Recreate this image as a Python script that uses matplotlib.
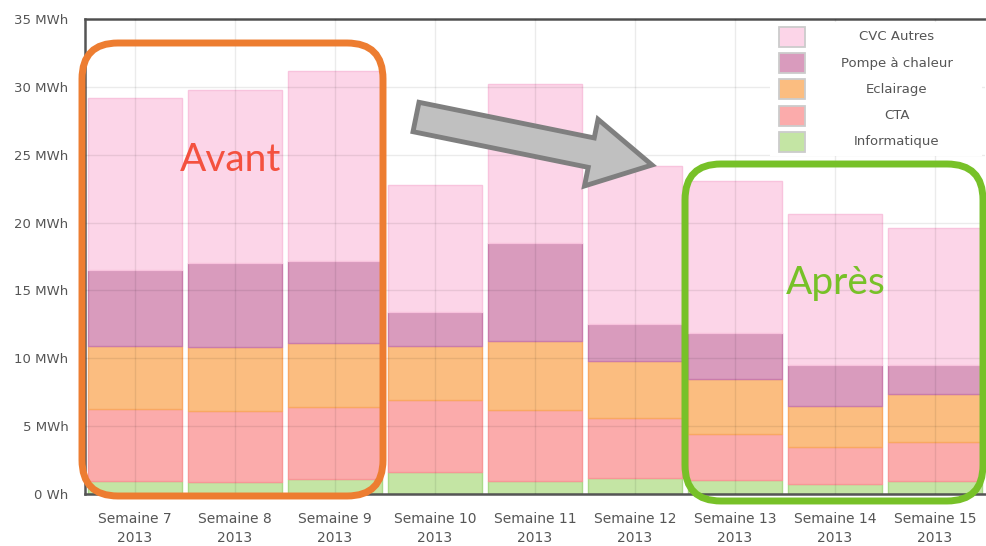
import numpy as np
import matplotlib.pyplot as plt
from matplotlib.patches import FancyBboxPatch, FancyArrow, Rectangle

# weekly consumption (MWh)
semaines = ['Semaine 7', 'Semaine 8', 'Semaine 9', 'Semaine 10', 'Semaine 11',
            'Semaine 12', 'Semaine 13', 'Semaine 14', 'Semaine 15']
annee = '2013'
informatique = [0.96, 0.91, 1.08, 1.62, 0.96, 1.18, 1.00, 0.76, 0.94]
cta = [5.28, 5.23, 5.31, 5.31, 5.24, 4.42, 3.40, 2.73, 2.89]
eclairage = [4.69, 4.66, 4.74, 3.97, 5.10, 4.20, 4.05, 2.99, 3.54]
pompe = [5.57, 6.20, 6.02, 2.50, 7.20, 2.70, 3.39, 3.00, 2.13]
cvc_autres = [12.70, 12.80, 14.05, 9.40, 11.70, 11.70, 11.26, 11.12, 10.10]

series = [('Informatique', informatique, '#c4e5a4', '#a9d987'),
          ('CTA', cta, '#fbabab', '#f79797'),
          ('Eclairage', eclairage, '#fbbd80', '#f9a862'),
          ('Pompe à chaleur', pompe, '#d99bbd', '#c97cab'),
          ('CVC Autres', cvc_autres, '#fcd5e8', '#f8c3dd')]

W, H = 986, 546
fig = plt.figure(figsize=(W / 100, H / 100), dpi=100)
ax = fig.add_axes([85 / W, (H - 494) / H, 900 / W, 475 / H])

x = np.arange(len(semaines))
bottom = np.zeros(len(semaines))
for name, vals, col, edge in series:
    ax.bar(x, vals, width=0.94, bottom=bottom, color=col, edgecolor=edge,
           linewidth=1, label=name, zorder=2)
    bottom += np.array(vals)

ax.set_xlim(-0.5, len(semaines) - 0.5)
ax.set_ylim(0, 35)
ax.set_yticks(np.arange(0, 36, 5))
ax.set_yticklabels(['0 Wh'] + ['{} MWh'.format(v) for v in range(5, 36, 5)])
ax.set_xticks(x)
ax.set_xticklabels(['{}\n{}'.format(s, annee) for s in semaines], linespacing=1.45)
ax.tick_params(length=0, colors='#555555', labelsize=9.5, pad=12)
ax.tick_params(axis='x', labelsize=10, pad=13)
ax.grid(True, color='black', alpha=0.08, linewidth=1, zorder=3)
ax.set_axisbelow(False)
for s in ['left', 'top', 'bottom']:
    ax.spines[s].set_color('#555555')
    ax.spines[s].set_linewidth(1.8)
ax.spines['right'].set_visible(False)

# overlay in pixel coordinates for legend and annotations
ov = fig.add_axes([0, 0, 1, 1], zorder=10)
ov.set_xlim(0, W)
ov.set_ylim(H, 0)
ov.axis('off')
ov.patch.set_alpha(0)

# legend, drawn by hand to keep the centred labels
ov.add_patch(Rectangle((770, 22), 212, 134, facecolor='white', edgecolor='none'))
for i, (name, vals, col, edge) in enumerate(series[::-1]):
    yc = 37 + 26.2 * i
    ov.add_patch(Rectangle((779, yc - 10), 26, 20, facecolor=col,
                           edgecolor='#cccccc', linewidth=1.3))
    ov.text(897, yc, name, color='#555555', fontsize=9.5, ha='center', va='center')

ov.add_patch(FancyBboxPatch((82, 43), 301, 453, boxstyle='round,pad=0,rounding_size=36',
                            fill=False, edgecolor='#ed7d31', linewidth=5))
ov.add_patch(FancyBboxPatch((685, 164), 298, 337, boxstyle='round,pad=0,rounding_size=36',
                            fill=False, edgecolor='#77c128', linewidth=5))
ov.add_patch(FancyArrow(416, 117, 236, 48, width=30, head_width=68, head_length=62,
                        length_includes_head=True, facecolor='#c0c0c0',
                        edgecolor='#7f7f7f', linewidth=3.5))
ov.text(231, 160, 'Avant', color='#f4513f', fontsize=28, family='Lato',
        ha='center', va='center')
ov.text(836, 283, 'Après', color='#77c128', fontsize=28, family='Lato',
        ha='center', va='center')

fig.savefig('out.png', dpi=100)
